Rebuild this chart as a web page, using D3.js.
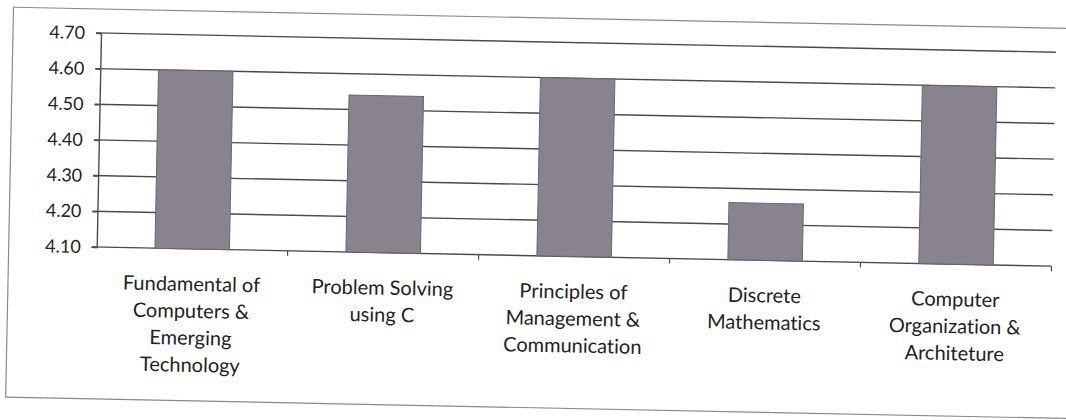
<!DOCTYPE html>
<html>
<head>
<meta charset="utf-8">
<script src="https://cdn.jsdelivr.net/npm/d3@7"></script>
<style>
  body { margin: 0; background: #fff; }
  svg { display: block; font-variant-ligatures: none; }
  .tick text { font-family: Lato, "Open Sans", sans-serif; fill: #222; }
</style>
</head>
<body>
<svg id="chart"></svg>
<script>
const categories = [
  "Fundamental of\nComputers &\nEmerging\nTechnology",
  "Problem Solving\nusing C",
  "Principles of\nManagement &\nCommunication",
  "Discrete\nMathematics",
  "Computer\nOrganization &\nArchiteture",
];
const scores = [4.6, 4.54, 4.6, 4.26, 4.6];
const yTicks = [4.1, 4.2, 4.3, 4.4, 4.5, 4.6, 4.7];

const width = 1066;
const height = 420;
const margin = { left: 101, top: 33, right: 10, bottom: 173 };

const svg = d3.select("#chart").attr("width", width).attr("height", height);

// the scan is tilted a little, so the whole chart is too
const root = svg.append("g").attr("transform", "rotate(1.15, 100, 33)");

root
  .append("rect")
  .attr("x", 13)
  .attr("y", 9)
  .attr("width", 1120)
  .attr("height", 390)
  .attr("fill", "none")
  .attr("stroke", "#8a8a8a")
  .attr("stroke-width", 1.2);

const x = d3
  .scaleBand()
  .domain(categories)
  .range([margin.left, width - margin.right])
  .paddingInner(0.61)
  .paddingOuter(0.305);

const y = d3
  .scaleLinear()
  .domain([4.1, 4.7])
  .range([height - margin.bottom, margin.top]);

// grid lines
root
  .append("g")
  .selectAll("line")
  .data(yTicks)
  .join("line")
  .attr("x1", margin.left - 5)
  .attr("x2", width - margin.right)
  .attr("y1", (d) => y(d))
  .attr("y2", (d) => y(d))
  .attr("stroke", "#4a4a4a")
  .attr("stroke-width", 1.4);

root
  .append("g")
  .selectAll("rect")
  .data(scores)
  .join("rect")
  .attr("x", (d, i) => x(categories[i]))
  .attr("y", (d) => y(d))
  .attr("width", x.bandwidth())
  .attr("height", (d) => y(4.1) - y(d))
  .attr("fill", "#88838c")
  .attr("stroke", "#6a656f")
  .attr("stroke-width", 1);

const yAxis = root
  .append("g")
  .attr("transform", `translate(${margin.left},0)`)
  .call(
    d3
      .axisLeft(y)
      .tickValues(yTicks)
      .tickFormat(d3.format(".2f"))
      .tickSize(5)
      .tickPadding(11)
  );
yAxis.selectAll("text").attr("font-size", 18);
yAxis.selectAll("line, path").attr("stroke", "#4a4a4a").attr("stroke-width", 1.4);

// category axis: ticks sit between the bars
const bottom = y(4.1);
const step = x.step();
const edges = d3.range(categories.length + 1).map((i) => margin.left + i * step);
root
  .append("g")
  .selectAll("line")
  .data(edges.slice(1))
  .join("line")
  .attr("x1", (d) => d)
  .attr("x2", (d) => d)
  .attr("y1", bottom)
  .attr("y2", bottom + 5)
  .attr("stroke", "#4a4a4a")
  .attr("stroke-width", 1.2);

const labels = root
  .append("g")
  .selectAll("text")
  .data(categories)
  .join("text")
  .attr("x", (d) => x(d) + x.bandwidth() / 2)
  .attr("y", bottom + 42)
  .attr("text-anchor", "middle")
  .attr("font-family", 'Lato, "Open Sans", sans-serif')
  .attr("font-size", 20)
  .attr("fill", "#222");

labels
  .selectAll("tspan")
  .data((d) => d.split("\n").map((t) => ({ t, x: x(d) + x.bandwidth() / 2 })))
  .join("tspan")
  .attr("x", (d) => d.x)
  .attr("dy", (d, i) => (i === 0 ? 0 : 27))
  .text((d) => d.t);
</script>
</body>
</html>
